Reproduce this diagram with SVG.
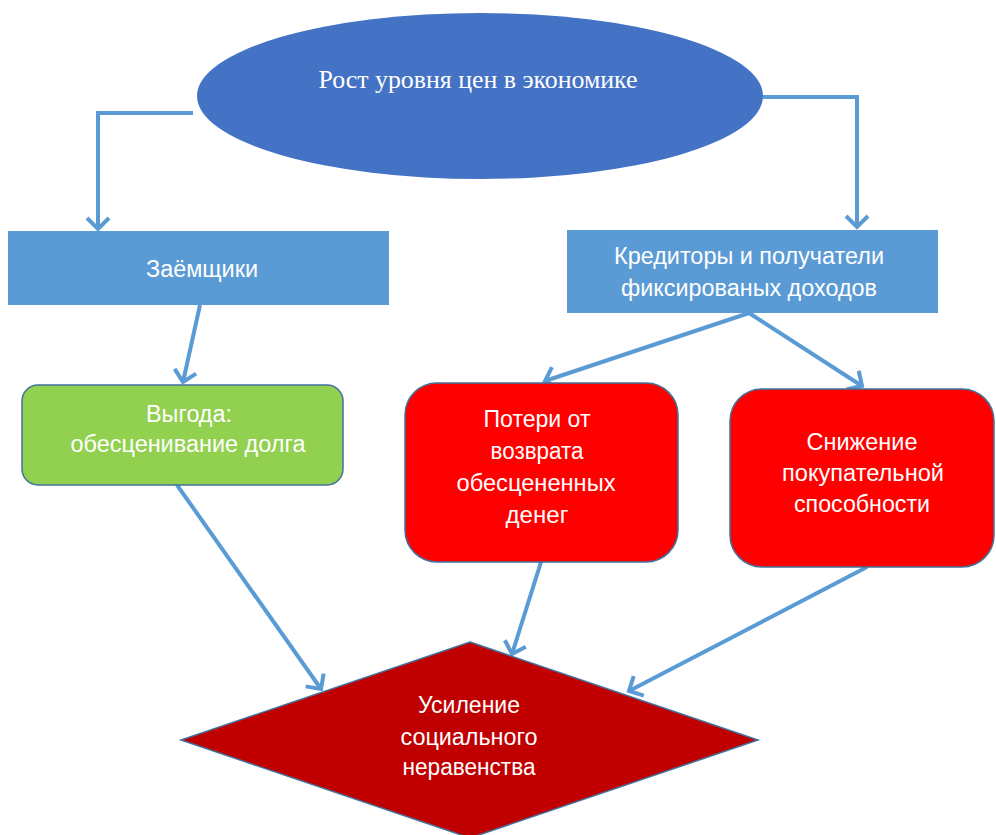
<svg xmlns="http://www.w3.org/2000/svg" width="996" height="835" viewBox="0 0 996 835">
<defs>
<style>
.t{font-family:"Liberation Sans",Arial,sans-serif;font-size:23px;fill:#ffffff;text-anchor:middle}
.ts{font-family:"Liberation Serif","Times New Roman",serif;font-size:25px;fill:#ffffff;text-anchor:middle}
.c{fill:none;stroke:#5B9BD5;stroke-width:4;stroke-linejoin:miter}
.box{fill:#5B9BD5}
.rb{stroke:#41719C;stroke-width:1.5}
</style>
<marker id="ah" markerUnits="userSpaceOnUse" viewBox="-14 -14 18 28" markerWidth="18" markerHeight="28" refX="0" refY="0" orient="auto">
<path d="M-11,-11 L0,0 L-11,11" fill="none" stroke="#5B9BD5" stroke-width="4"/>
</marker>
</defs>
<rect width="996" height="835" fill="#ffffff"/>
<g id="connectors">
<polyline class="c" points="193,113 98,113 98,229" marker-end="url(#ah)"/>
<polyline class="c" points="763,97 857,97 857,227" marker-end="url(#ah)"/>
<line class="c" x1="200" y1="305" x2="183" y2="382" marker-end="url(#ah)"/>
<line class="c" x1="749" y1="313" x2="545" y2="381" marker-end="url(#ah)"/>
<line class="c" x1="749" y1="313" x2="862" y2="386" marker-end="url(#ah)"/>
<line class="c" x1="177" y1="485" x2="321" y2="689" marker-end="url(#ah)"/>
<line class="c" x1="541" y1="562" x2="512" y2="654" marker-end="url(#ah)"/>
<line class="c" x1="867" y1="567" x2="629" y2="691" marker-end="url(#ah)"/>
</g>
<g id="node-price">
<ellipse cx="480" cy="96" rx="283" ry="83" fill="#4472C4"/>
<text class="ts" x="478" y="88" textLength="319" lengthAdjust="spacingAndGlyphs">Рост уровня цен в экономике</text>
</g>
<g id="node-borrowers">
<rect class="box" x="8" y="231" width="381" height="74"/>
<text class="t" x="202" y="277" textLength="112" lengthAdjust="spacingAndGlyphs">Заёмщики</text>
</g>
<g id="node-creditors">
<rect class="box" x="567" y="230" width="371" height="83"/>
<text class="t" x="749" y="264" textLength="270" lengthAdjust="spacingAndGlyphs">Кредиторы и получатели</text>
<text class="t" x="749" y="296" textLength="256" lengthAdjust="spacingAndGlyphs">фиксированых доходов</text>
</g>
<g id="node-benefit">
<rect class="rb" x="22" y="385" width="321" height="100" rx="16" fill="#92D050"/>
<text class="t" x="189" y="422" textLength="86" lengthAdjust="spacingAndGlyphs">Выгода:</text>
<text class="t" x="188" y="452" textLength="235" lengthAdjust="spacingAndGlyphs">обесценивание долга</text>
</g>
<g id="node-losses">
<rect class="rb" x="405" y="383" width="273" height="179" rx="32" fill="#FF0000"/>
<text class="t" x="537" y="427" textLength="107" lengthAdjust="spacingAndGlyphs">Потери от</text>
<text class="t" x="537" y="459" textLength="93" lengthAdjust="spacingAndGlyphs">возврата</text>
<text class="t" x="536" y="491" textLength="159" lengthAdjust="spacingAndGlyphs">обесцененных</text>
<text class="t" x="537" y="523" textLength="63" lengthAdjust="spacingAndGlyphs">денег</text>
</g>
<g id="node-purchasing">
<rect class="rb" x="730" y="389" width="264" height="178" rx="32" fill="#FF0000"/>
<text class="t" x="862" y="450" textLength="111" lengthAdjust="spacingAndGlyphs">Снижение</text>
<text class="t" x="863" y="481" textLength="162" lengthAdjust="spacingAndGlyphs">покупательной</text>
<text class="t" x="862" y="512" textLength="136" lengthAdjust="spacingAndGlyphs">способности</text>
</g>
<g id="node-inequality">
<polygon points="470,642 758,740 470,838 181,740" fill="#C00000" stroke="#41719C" stroke-width="1.5"/>
<text class="t" x="469" y="713" textLength="102" lengthAdjust="spacingAndGlyphs">Усиление</text>
<text class="t" x="469" y="745" textLength="137" lengthAdjust="spacingAndGlyphs">социального</text>
<text class="t" x="469" y="775" textLength="133" lengthAdjust="spacingAndGlyphs">неравенства</text>
</g>
</svg>
